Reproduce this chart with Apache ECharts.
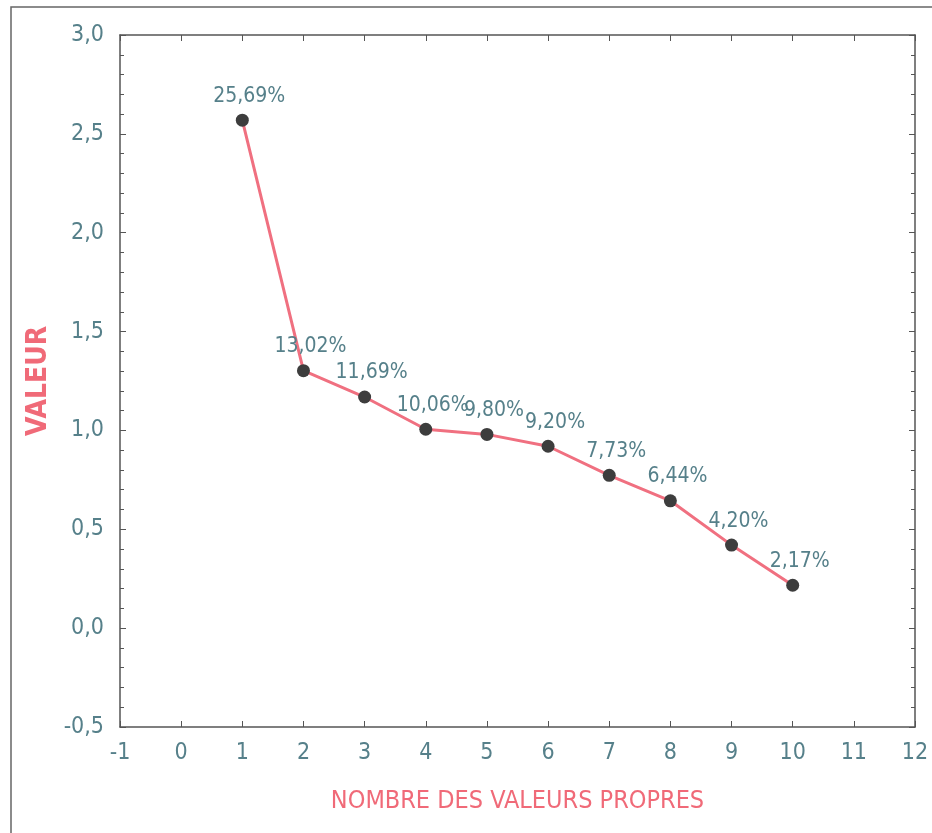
<!DOCTYPE html>
<html><head><meta charset="utf-8">
<script src="https://cdn.jsdelivr.net/npm/echarts@6/dist/echarts.min.js"></script>
<style>html,body{margin:0;padding:0;background:#fff}#c{width:932px;height:833px}</style>
</head><body><div id="c"></div>
<script>
const components = [1, 2, 3, 4, 5, 6, 7, 8, 9, 10];
const eigenvalues = [2.569, 1.302, 1.169, 1.006, 0.980, 0.920, 0.773, 0.644, 0.420, 0.217];
const percentLabels = ['25,69%', '13,02%', '11,69%', '10,06%', '9,80%', '9,20%', '7,73%', '6,44%', '4,20%', '2,17%'];
const xTitle = 'NOMBRE DES VALEURS PROPRES';
const yTitle = 'VALEUR';

const font = '"DejaVu Sans Condensed", "Liberation Sans Narrow", "Liberation Sans", Arial, sans-serif';
const labelColor = '#56808a';
const axisColor = '#555';
const fmt = v => (Math.round(v * 10) / 10).toFixed(1).replace('.', ',');

const chart = echarts.init(document.getElementById('c'));
const axisCommon = {
  axisLine: { show: true, onZero: false, lineStyle: { color: axisColor, width: 1.5 } },
  axisTick: { show: true, inside: true, length: 6, lineStyle: { color: axisColor } },
  splitLine: { show: false }
};
chart.setOption({
  animation: false,
  backgroundColor: '#fff',
  graphic: [{ type: 'rect', shape: { x: 11, y: 7, width: 1000, height: 1000 }, style: { fill: 'none', stroke: '#666', lineWidth: 1.5 } }],
  grid: { left: 120, right: 17, top: 35, bottom: 106 },
  xAxis: [
    Object.assign({}, axisCommon, {
      type: 'value', min: -1, max: 12, interval: 1, position: 'bottom',
      name: xTitle, nameLocation: 'middle', nameGap: 62,
      nameTextStyle: { color: '#f06a78', fontSize: 25, fontFamily: font },
      axisLabel: { color: labelColor, fontSize: 23, fontFamily: font, margin: 15 }
    }),
    Object.assign({}, axisCommon, {
      type: 'value', min: -1, max: 12, interval: 1, position: 'top', axisLabel: { show: false }
    })
  ],
  yAxis: [
    Object.assign({}, axisCommon, {
      type: 'value', min: -0.5, max: 3, interval: 0.5, position: 'left',
      minorTick: { show: true, splitNumber: 5, length: 4, lineStyle: { color: axisColor } },
      name: yTitle, nameLocation: 'middle', nameGap: 66, nameRotate: 90,
      nameTextStyle: { color: '#f06a78', fontSize: 28, fontWeight: 'bold', fontFamily: font },
      axisLabel: { color: labelColor, fontSize: 23, fontFamily: font, margin: 16, formatter: fmt }
    }),
    Object.assign({}, axisCommon, {
      type: 'value', min: -0.5, max: 3, interval: 0.5, position: 'right',
      minorTick: { show: true, splitNumber: 5, length: 4, lineStyle: { color: axisColor } },
      axisLabel: { show: false }
    })
  ],
  series: [{
    type: 'line',
    data: components.map((c, i) => [c, eigenvalues[i]]),
    symbol: 'circle', symbolSize: 13,
    itemStyle: { color: '#3d3d3d' },
    lineStyle: { color: '#f07080', width: 3 },
    label: {
      show: true, position: 'top', distance: 7, offset: [7, 0],
      color: labelColor, fontSize: 21, fontFamily: font,
      formatter: p => percentLabels[p.dataIndex]
    }
  }]
});
</script></body></html>
